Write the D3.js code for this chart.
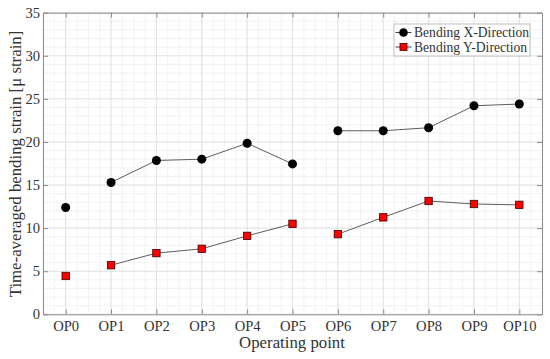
<!DOCTYPE html>
<html>
<head>
<meta charset="utf-8">
<script src="https://cdn.jsdelivr.net/npm/d3@7"></script>
<style>
  body { margin: 0; background: #fff; }
  svg text { font-family: "Liberation Serif", "DejaVu Serif", serif; fill: #333; }
</style>
</head>
<body>
<svg id="chart"></svg>
<script>
// chart data
const categories = ["OP0", "OP1", "OP2", "OP3", "OP4", "OP5", "OP6", "OP7", "OP8", "OP9", "OP10"]
const bendingX = [12.4, 15.3, 17.85, 18.0, 19.85, 17.45, 21.3, 21.3, 21.65, 24.2, 24.4]
const bendingY = [4.45, 5.7, 7.1, 7.6, 9.1, 10.5, 9.3, 11.25, 13.15, 12.8, 12.7]
// line segments that are joined (index groups)
const segments = [[0], [1, 2, 3, 4, 5], [6, 7, 8, 9, 10]]
const yTicks = [0, 5, 10, 15, 20, 25, 30, 35]

const w = 550
const h = 359
const padLeft = 43, padRight = 542, padTop = 12.7, padBottom = 314.3

const svg = d3.select("#chart").attr("width", w).attr("height", h)

const xScale = d3.scaleLinear().domain([-0.5, 10.5]).range([padLeft, padRight])
const yScale = d3.scaleLinear().domain([0, 35]).range([padBottom, padTop])

// minor grid
const xMinor = d3.range(-0.5, 10.5001, 0.25)
const yMinor = d3.range(0, 35.001, 1)
svg.append("g").selectAll("line").data(xMinor).enter().append("line")
    .attr("x1", d => xScale(d)).attr("x2", d => xScale(d))
    .attr("y1", padTop).attr("y2", padBottom)
    .attr("stroke", "#efefef").attr("stroke-width", 0.8)
svg.append("g").selectAll("line").data(yMinor).enter().append("line")
    .attr("y1", d => yScale(d)).attr("y2", d => yScale(d))
    .attr("x1", padLeft).attr("x2", padRight)
    .attr("stroke", "#efefef").attr("stroke-width", 0.8)

// major grid
svg.append("g").selectAll("line").data(d3.range(categories.length)).enter().append("line")
    .attr("x1", d => xScale(d)).attr("x2", d => xScale(d))
    .attr("y1", padTop).attr("y2", padBottom)
    .attr("stroke", "#e0e0e0").attr("stroke-width", 0.8)
svg.append("g").selectAll("line").data(yTicks).enter().append("line")
    .attr("y1", d => yScale(d)).attr("y2", d => yScale(d))
    .attr("x1", padLeft).attr("x2", padRight)
    .attr("stroke", "#e0e0e0").attr("stroke-width", 0.8)

// axes (ticks inward, box on)
const axisColor = "#8c8c8c"
const axisBottom = d3.axisBottom(xScale).tickValues(d3.range(categories.length))
    .tickFormat(i => categories[i]).tickSizeInner(-5).tickSizeOuter(0).tickPadding(6)
const axisTop = d3.axisTop(xScale).tickValues(d3.range(categories.length))
    .tickFormat("").tickSizeInner(-5).tickSizeOuter(0)
const axisLeft = d3.axisLeft(yScale).tickValues(yTicks)
    .tickSizeInner(-5).tickSizeOuter(0).tickPadding(3)
const axisRight = d3.axisRight(yScale).tickValues(yTicks)
    .tickFormat("").tickSizeInner(-5).tickSizeOuter(0)

svg.append("g").attr("transform", `translate(0, ${padBottom})`).call(axisBottom)
svg.append("g").attr("transform", `translate(0, ${padTop})`).call(axisTop)
svg.append("g").attr("transform", `translate(${padLeft}, 0)`).call(axisLeft)
svg.append("g").attr("transform", `translate(${padRight}, 0)`).call(axisRight)

svg.selectAll(".domain").attr("stroke", axisColor)
svg.selectAll(".tick line").attr("stroke", axisColor)
svg.selectAll(".tick text").attr("font-family", "Liberation Serif").attr("font-size", 14.6).attr("fill", "#333")

// axis labels
svg.append("text")
    .attr("x", 292).attr("y", 347.5)
    .attr("text-anchor", "middle").attr("font-size", 16.8)
    .text("Operating point")
svg.append("text")
    .attr("transform", `translate(20.5, 164) rotate(-90)`)
    .attr("text-anchor", "middle").attr("font-size", 16.8)
    .text("Time-averaged bending strain [\u03bc strain]")

// lines
function drawLines(values) {
    segments.filter(s => s.length > 1).forEach(s => {
        svg.append("path")
            .attr("d", d3.line().x(i => xScale(i)).y(i => yScale(values[i]))(s))
            .attr("fill", "none").attr("stroke", "#5e5e5e").attr("stroke-width", 1)
    })
}
drawLines(bendingX)
drawLines(bendingY)

// markers
svg.append("g").selectAll("circle").data(bendingX).enter().append("circle")
    .attr("cx", (d, i) => xScale(i)).attr("cy", d => yScale(d))
    .attr("r", 4.5).attr("fill", "#000")
svg.append("g").selectAll("rect").data(bendingY).enter().append("rect")
    .attr("x", (d, i) => xScale(i) - 3.7).attr("y", d => yScale(d) - 3.7)
    .attr("width", 7.4).attr("height", 7.4)
    .attr("fill", "#ff0000").attr("stroke", "#3a0000").attr("stroke-width", 0.8)

// legend
const legend = svg.append("g").attr("transform", "translate(394, 24)")
legend.append("rect").attr("width", 136).attr("height", 32)
    .attr("fill", "#fff").attr("stroke", "#b0b0b0").attr("stroke-width", 0.8)
const items = [{ name: "Bending X-Direction", type: "circle" }, { name: "Bending Y-Direction", type: "square" }]
items.forEach((it, k) => {
    const y = 8.5 + k * 14.5
    legend.append("line").attr("x1", 1.5).attr("x2", 17.5).attr("y1", y).attr("y2", y)
        .attr("stroke", "#444").attr("stroke-width", 1)
    if (it.type === "circle") {
        legend.append("circle").attr("cx", 9.5).attr("cy", y).attr("r", 4.3).attr("fill", "#000")
    } else {
        legend.append("rect").attr("x", 6).attr("y", y - 3.5).attr("width", 7).attr("height", 7)
            .attr("fill", "#ff0000").attr("stroke", "#3a0000").attr("stroke-width", 0.8)
    }
    legend.append("text").attr("x", 20).attr("y", y + 4.5).attr("font-size", 13.6).text(it.name)
})
</script>
</body>
</html>
